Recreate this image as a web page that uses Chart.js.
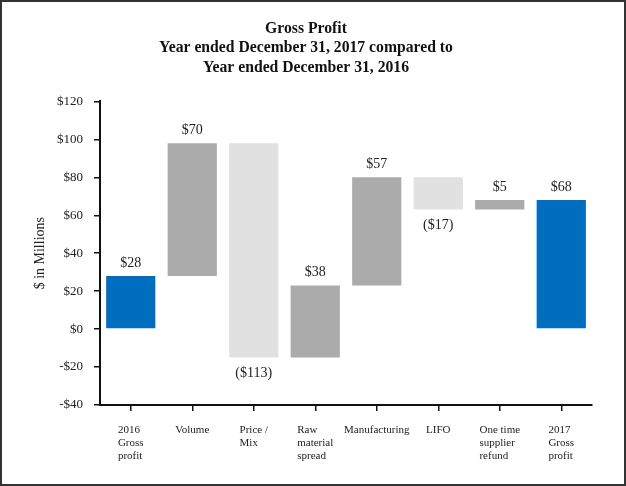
<!DOCTYPE html>
<html>
<head>
<meta charset="utf-8">
<script src="https://cdn.jsdelivr.net/npm/chart.js@4.4.1/dist/chart.umd.min.js"></script>
<style>
    html, body { margin: 0; padding: 0; background: #fff; }
    #wrap { width: 626px; height: 486px; position: relative; }
</style>
</head>
<body>
<div id="wrap"><canvas id="grossProfitChart"></canvas></div>
<script>
// Data
const categories = [
    ["2016", "Gross", "profit"],
    ["Volume"],
    ["Price /", "Mix"],
    ["Raw", "material", "spread"],
    ["Manufacturing"],
    ["LIFO"],
    ["One time", "supplier", "refund"],
    ["2017", "Gross", "profit"]
];
const changes = [28, 70, -113, 38, 57, -17, 5, 68];
const isTotal = [true, false, false, false, false, false, false, true];
const valueLabels = ["$28", "$70", "($113)", "$38", "$57", "($17)", "$5", "$68"];
const yTicks = [-40, -20, 0, 20, 40, 60, 80, 100, 120];
const titleLines = [
    "Gross Profit",
    "Year ended December 31, 2017 compared to",
    "Year ended December 31, 2016"
];

// Colors
const totalColor = "#006EBE";
const upColor = "#ABABAB";
const downColor = "#E1E1E1";
const serif = "'Liberation Serif', 'Times New Roman', serif";

// Build floating bars from running total
let running = 0;
const floating = changes.map((change, i) => {
    if (isTotal[i]) {
        running = change;
        return [0, change];
    }
    const start = running;
    running += change;
    return [start, running];
});
const barColors = changes.map((change, i) => {
    if (isTotal[i]) return totalColor;
    return change >= 0 ? upColor : downColor;
});

// Value labels above / below bars
const valueLabelPlugin = {
    id: "valueLabels",
    afterDatasetsDraw(chart) {
        const ctx = chart.ctx;
        const meta = chart.getDatasetMeta(0);
        ctx.save();
        ctx.font = "14px " + serif;
        ctx.fillStyle = "#222";
        ctx.textAlign = "center";
        ctx.textBaseline = "middle";
        meta.data.forEach((bar, i) => {
            const top = Math.min(bar.y, bar.base);
            const bottom = Math.max(bar.y, bar.base);
            if (changes[i] >= 0) {
                ctx.fillText(valueLabels[i], bar.x, top - 13);
            } else {
                ctx.fillText(valueLabels[i], bar.x, bottom + 16);
            }
        });
        ctx.restore();
    }
};

// Category labels: block centred under tick, lines left aligned
const categoryLabelPlugin = {
    id: "categoryLabels",
    afterDraw(chart) {
        const ctx = chart.ctx;
        const xScale = chart.scales.x;
        ctx.save();
        ctx.font = "11px " + serif;
        ctx.fillStyle = "#222";
        ctx.textAlign = "left";
        ctx.textBaseline = "middle";
        categories.forEach((lines, i) => {
            const x = xScale.getPixelForValue(i);
            const maxW = Math.max(...lines.map(l => ctx.measureText(l).width));
            lines.forEach((line, j) => {
                ctx.fillText(line, x - maxW / 2, xScale.top + 25 + j * 13);
            });
        });
        ctx.restore();
    }
};

// Outer frame
const framePlugin = {
    id: "frame",
    afterDraw(chart) {
        const ctx = chart.ctx;
        ctx.save();
        ctx.strokeStyle = "#333";
        ctx.lineWidth = 2;
        ctx.strokeRect(1, 1, chart.width - 2, chart.height - 2);
        ctx.restore();
    }
};

const ctx = document.getElementById("grossProfitChart").getContext("2d");

new Chart(ctx, {
    type: "bar",
    data: {
        labels: categories.map(c => c.join(" ")),
        datasets: [{
            data: floating,
            backgroundColor: barColors,
            borderWidth: 0,
            barPercentage: 0.8,
            categoryPercentage: 1.0
        }]
    },
    options: {
        responsive: true,
        maintainAspectRatio: false,
        animation: false,
        layout: {
            padding: { top: 0, right: 34, bottom: 0, left: 20 }
        },
        plugins: {
            legend: { display: false },
            tooltip: { enabled: false },
            title: {
                display: true,
                text: titleLines,
                color: "#111",
                font: { family: serif, size: 15.7, weight: "bold", lineHeight: 1.24 },
                padding: { top: 19, bottom: 24 }
            }
        },
        scales: {
            x: {
                grid: {
                    offset: false,
                    drawOnChartArea: false,
                    drawTicks: true,
                    tickLength: 6,
                    color: "#111",
                    lineWidth: 1.5
                },
                border: { display: true, color: "#111", width: 2 },
                ticks: {
                    callback: () => ""
                },
                afterFit(scale) {
                    scale.height = 81;
                }
            },
            y: {
                min: -40,
                max: 120,
                afterBuildTicks(scale) {
                    scale.ticks = yTicks.map(v => ({ value: v }));
                },
                grid: {
                    drawOnChartArea: false,
                    drawTicks: true,
                    tickLength: 6,
                    color: "#111",
                    lineWidth: 1.5
                },
                border: { display: true, color: "#111", width: 2 },
                ticks: {
                    padding: 11,
                    color: "#222",
                    font: { family: serif, size: 13 },
                    callback: function (value) {
                        return value < 0 ? "-$" + Math.abs(value) : "$" + value;
                    }
                },
                title: {
                    display: true,
                    text: "$ in Millions",
                    color: "#222",
                    font: { family: serif, size: 14 },
                    padding: { top: 12, bottom: 0 }
                },
                afterFit(scale) {
                    scale.width = 80;
                }
            }
        }
    },
    plugins: [valueLabelPlugin, categoryLabelPlugin, framePlugin]
});
</script>
</body>
</html>
